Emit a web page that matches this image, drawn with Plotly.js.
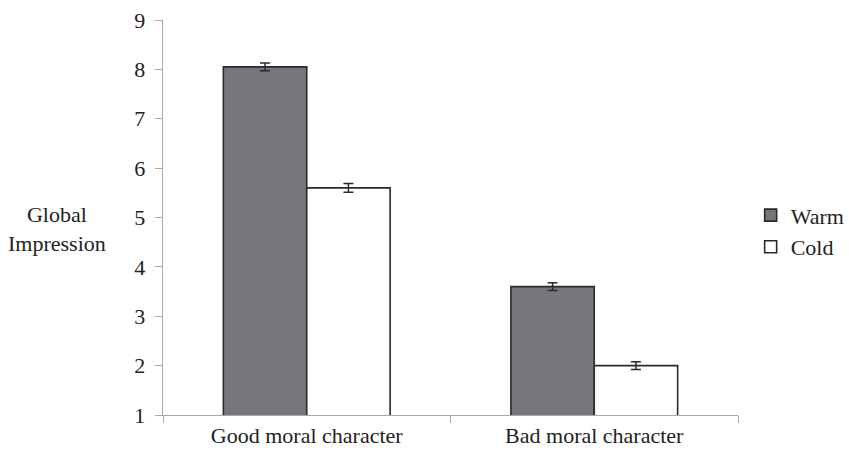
<!DOCTYPE html>
<html>
<head>
<meta charset="utf-8">
<script src="https://cdn.plot.ly/plotly-3.0.1.min.js"></script>
<style>html,body{margin:0;padding:0;background:#fff}#chart{width:849px;height:452px}</style>
</head>
<body>
<div id="chart"></div>
<script>
// Mean global impression by moral character and warmth condition
const categories = ["Good moral character", "Bad moral character"];
const warmValues = [8.05, 3.6];
const warmErrors = [0.08, 0.08];
const coldValues = [5.6, 2.0];
const coldErrors = [0.09, 0.08];
const yTicks = [1, 2, 3, 4, 5, 6, 7, 8, 9];

const serif = "Liberation Serif";
const textColor = "#222222";
const outline = {color: "#2a2a2a", width: 1.6};

const traces = [
  {
    type: "bar", name: "Warm", x: categories, y: warmValues,
    marker: {color: "#76777b", line: outline},
    error_y: {type: "data", array: warmErrors, visible: true, color: "#2a2a2a", thickness: 1.5, width: 5},
    legendgroup: "w"
  },
  {
    type: "bar", name: "Cold", x: categories, y: coldValues,
    marker: {color: "#ffffff", line: outline},
    error_y: {type: "data", array: coldErrors, visible: true, color: "#2a2a2a", thickness: 1.5, width: 5},
    legendgroup: "c"
  }
];

const layout = {
  width: 849, height: 452,
  margin: {l: 163, r: 111, t: 20, b: 37, autoexpand: false},
  paper_bgcolor: "#fff", plot_bgcolor: "#fff",
  font: {family: serif, size: 22, color: textColor},
  barmode: "group", bargap: 0.42, bargroupgap: 0,
  showlegend: true,
  legend: {x: 1.022, xanchor: "left", y: 0.465, yanchor: "middle",
           font: {family: serif, size: 22, color: textColor},
           tracegroupgap: 10, itemwidth: 30, traceorder: "normal"},
  xaxis: {
    showline: true, linecolor: "#a8a8a8", linewidth: 1.3,
    ticks: "outside", tickson: "boundaries", ticklen: 7, tickcolor: "#a8a8a8",
    tickfont: {family: serif, size: 22, color: textColor},
    showgrid: false, zeroline: false
  },
  yaxis: {
    range: [1, 9], tickvals: yTicks, ticktext: yTicks.map(String),
    showline: true, linecolor: "#a8a8a8", linewidth: 1.3,
    ticks: "outside", ticklen: 7, tickcolor: "#a8a8a8",
    tickfont: {family: serif, size: 22, color: textColor},
    showgrid: false, zeroline: false, ticklabelstandoff: 5
  },
  annotations: [{
    text: "Global<br>Impression", xref: "paper", yref: "paper",
    x: -0.184, y: 0.47, xanchor: "center", yanchor: "middle",
    showarrow: false, font: {family: serif, size: 22, color: textColor}
  }]
};

Plotly.newPlot("chart", traces, layout, {staticPlot: true, displayModeBar: false});
</script>
</body>
</html>
